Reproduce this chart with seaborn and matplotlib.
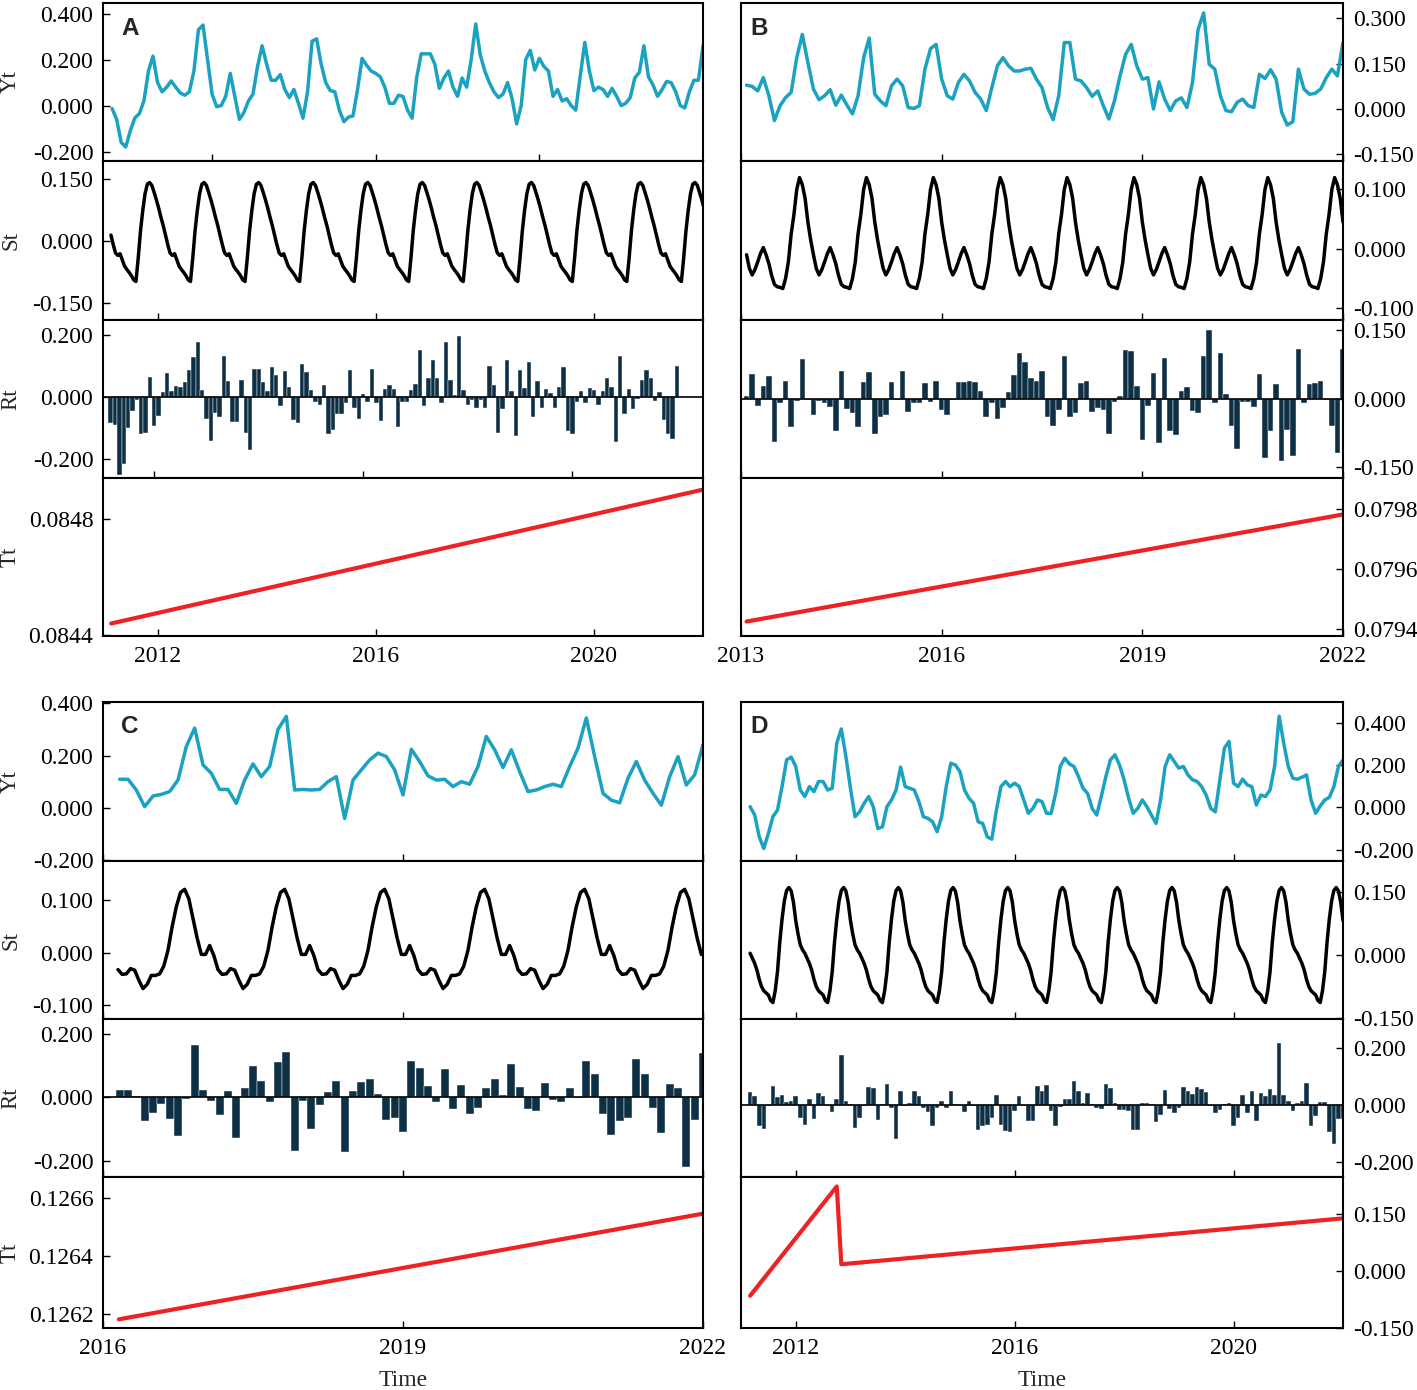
import numpy as np
import pandas as pd
import seaborn as sns
import matplotlib
matplotlib.use("Agg")
import matplotlib.pyplot as plt
from matplotlib.ticker import FixedLocator, StrMethodFormatter

# ---------------- data (monthly values) ----------------
# Panel A: 2011-2022
yt_a = [-0.013, -0.06, -0.16, -0.18, -0.11, -0.054, -0.035, 0.02, 0.15, 0.215,
        0.10, 0.06, 0.08, 0.107, 0.08, 0.055, 0.045, 0.06, 0.15, 0.33,
        0.35, 0.20, 0.05, -0.005, 0.0, 0.04, 0.14, 0.04, -0.06, -0.03,
        0.02, 0.05, 0.17, 0.26, 0.18, 0.11, 0.11, 0.135, 0.07, 0.035,
        0.07, 0.01, -0.055, 0.06, 0.28, 0.29, 0.18, 0.10, 0.065, 0.06,
        -0.02, -0.07, -0.05, -0.045, 0.07, 0.205, 0.175, 0.15, 0.14, 0.125,
        0.08, 0.01, 0.01, 0.045, 0.04, -0.02, -0.055, 0.12, 0.225, 0.225,
        0.225, 0.18, 0.075, 0.12, 0.15, 0.08, 0.04, 0.12, 0.08, 0.20,
        0.355, 0.22, 0.15, 0.10, 0.06, 0.035, 0.05, 0.10, 0.03, -0.08,
        0.0, 0.20, 0.24, 0.155, 0.205, 0.17, 0.15, 0.04, 0.07, 0.02,
        0.03, 0.0, -0.02, 0.13, 0.275, 0.15, 0.065, 0.08, 0.07, 0.04,
        0.075, 0.04, 0.0, 0.01, 0.035, 0.12, 0.145, 0.26, 0.125, 0.09,
        0.04, 0.07, 0.105, 0.10, 0.06, 0.0, -0.01, 0.06, 0.11, 0.11,
        0.26]
rt_a = [-0.085, -0.09, -0.25, -0.215, -0.10, -0.045, -0.01, -0.12, -0.115, 0.065,
        -0.093, -0.06, 0.015, 0.078, 0.02, 0.035, 0.032, 0.048, 0.085, 0.128,
        0.175, 0.022, -0.07, -0.14, -0.05, -0.065, 0.13, 0.05, -0.08, -0.08,
        0.055, -0.115, -0.17, 0.09, 0.09, 0.048, 0.018, 0.095, 0.07, -0.03,
        0.083, 0.033, -0.075, -0.085, 0.107, 0.08, 0.022, -0.015, -0.025, 0.037,
        -0.12, -0.105, -0.055, -0.055, -0.02, 0.088, -0.035, -0.07, 0.01, -0.015,
        0.09, -0.02, -0.078, 0.025, 0.04, 0.025, -0.097, -0.015, -0.015, 0.022,
        0.043, 0.15, -0.03, 0.06, 0.118, 0.06, -0.02, 0.175, 0.055, 0.005,
        0.195, 0.022, -0.025, -0.01, -0.035, -0.01, -0.035, 0.10, 0.04, -0.115,
        -0.04, 0.12, 0.018, -0.125, 0.087, 0.03, 0.113, -0.065, 0.05, -0.035,
        0.027, 0.012, -0.035, 0.033, 0.095, -0.11, -0.12, -0.015, 0.02, -0.02,
        0.03, 0.022, -0.025, 0.018, 0.06, 0.033, -0.145, 0.133, -0.055, 0.025,
        -0.04, -0.005, 0.055, 0.088, 0.062, -0.013, 0.015, -0.075, -0.12, -0.135,
        0.10]
# one seasonal period (half-month steps, starting at the peak)
st_cycle_a = [0.142, 0.135, 0.118, 0.10, 0.08, 0.058, 0.038, 0.015, -0.008, -0.028,
              -0.034, -0.03, -0.045, -0.06, -0.068, -0.075, -0.083, -0.093, -0.097, -0.04,
              0.025, 0.075, 0.115, 0.138]
tt_a_months = [1.8, 132]
tt_a = [0.08444, 0.08490]

# Panel B: 2013-2022
yt_b = [0.079, 0.075, 0.06, 0.104, 0.044, -0.038, 0.011, 0.038, 0.055, 0.17,
        0.247, 0.154, 0.066, 0.031, 0.044, 0.064, 0.013, 0.046, 0.013, -0.016,
        0.044, 0.17, 0.235, 0.049, 0.027, 0.011, 0.077, 0.099, 0.077, 0.005,
        0.002, 0.011, 0.132, 0.2, 0.214, 0.099, 0.044, 0.033, 0.088, 0.115,
        0.093, 0.055, 0.033, -0.005, 0.071, 0.143, 0.17, 0.143, 0.126, 0.126,
        0.132, 0.135, 0.099, 0.071, 0.005, -0.035, 0.044, 0.22, 0.22, 0.099,
        0.093, 0.071, 0.042, 0.06, 0.011, -0.033, 0.027, 0.11, 0.181, 0.214,
        0.143, 0.099, 0.104, 0.0, 0.09, 0.033, -0.005, 0.027, 0.037, 0.005,
        0.088, 0.263, 0.318, 0.148, 0.132, 0.044, -0.005, -0.009, 0.022, 0.033,
        0.011, 0.005, 0.115, 0.101, 0.13, 0.099, -0.011, -0.053, -0.042, 0.132,
        0.066, 0.049, 0.052, 0.066, 0.104, 0.132, 0.11, 0.22]
rt_b = [0.005, 0.055, -0.015, 0.028, 0.05, -0.095, -0.01, 0.04, -0.062, -0.005,
        0.088, -0.002, -0.035, -0.005, -0.01, -0.018, -0.07, 0.06, -0.022, -0.032,
        -0.062, 0.037, 0.058, -0.077, -0.04, -0.036, 0.037, -0.002, 0.06, -0.03,
        -0.01, -0.01, 0.035, -0.007, 0.04, -0.025, -0.035, -0.003, 0.037, 0.037,
        0.04, 0.037, 0.018, -0.04, -0.01, -0.045, -0.02, 0.015, 0.052, 0.10,
        0.08, 0.045, 0.04, 0.06, -0.04, -0.06, -0.025, 0.093, -0.04, -0.032,
        0.035, 0.04, -0.03, -0.02, -0.025, -0.077, -0.007, 0.007, 0.107, 0.105,
        0.028, -0.09, -0.015, 0.057, -0.097, 0.09, -0.07, -0.08, 0.018, 0.025,
        -0.027, -0.032, 0.095, 0.152, -0.01, 0.10, 0.01, -0.06, -0.11, -0.008,
        -0.008, -0.018, 0.055, -0.13, -0.07, 0.033, -0.137, -0.068, -0.125, 0.11,
        -0.01, 0.032, 0.035, 0.04, -0.003, -0.06, -0.12, 0.11]
st_cycle_b = [0.12, 0.108, 0.085, 0.045, 0.015, -0.01, -0.033, -0.044, -0.035, -0.022,
              -0.008, 0.002, -0.01, -0.025, -0.045, -0.06, -0.064, -0.065, -0.067, -0.05,
              -0.022, 0.025, 0.058, 0.10]
tt_b_months = [1, 108]
tt_b = [0.079426, 0.079781]

# Panel C: 2016-2022
yt_c = [0.109, 0.109, 0.068, 0.004, 0.045, 0.051, 0.062, 0.106, 0.235, 0.305,
        0.164, 0.132, 0.07, 0.07, 0.017, 0.106, 0.168, 0.119, 0.158, 0.30,
        0.35, 0.068, 0.07, 0.068, 0.07, 0.10, 0.119, -0.041, 0.106, 0.145,
        0.183, 0.209, 0.196, 0.145, 0.049, 0.224, 0.177, 0.122, 0.106, 0.109,
        0.081, 0.10, 0.09, 0.158, 0.273, 0.222, 0.154, 0.222, 0.138, 0.062,
        0.068, 0.081, 0.09, 0.081, 0.158, 0.228, 0.344, 0.196, 0.055, 0.029,
        0.019, 0.113, 0.177, 0.106, 0.055, 0.01, 0.119, 0.196, 0.087, 0.126,
        0.241]
rt_c = [0.022, 0.024, 0.003, -0.075, -0.05, -0.022, -0.07, -0.122, -0.005, 0.167,
        0.023, -0.012, -0.055, 0.02, -0.127, 0.03, 0.10, 0.052, -0.015, 0.112,
        0.145, -0.17, -0.013, -0.10, -0.025, 0.017, 0.052, -0.172, 0.02, 0.05,
        0.058, 0.01, -0.072, -0.065, -0.11, 0.115, 0.092, 0.037, -0.015, 0.09,
        -0.038, 0.04, -0.053, -0.033, 0.03, 0.057, 0.007, 0.107, 0.033, -0.038,
        -0.043, 0.047, -0.008, -0.014, 0.03, -0.003, 0.115, 0.073, -0.052, -0.12,
        -0.075, -0.065, 0.12, 0.075, -0.033, -0.113, 0.042, 0.03, -0.22, -0.072,
        0.14]
st_cycle_c = [0.121, 0.103, 0.065, 0.028, -0.003, -0.003, 0.014, -0.005, -0.032, -0.041,
              -0.04, -0.03, -0.033, -0.052, -0.068, -0.06, -0.043, -0.043, -0.04, -0.025,
              0.005, 0.05, 0.088, 0.115]
tt_c_months = [1.9, 72]
tt_c = [0.12618, 0.126546]

# Panel D: 2011-2022
yt_d = [0.003, -0.036, -0.139, -0.194, -0.123, -0.044, -0.013, 0.098, 0.224, 0.237,
        0.193, 0.082, 0.051, 0.098, 0.074, 0.122, 0.122, 0.082, 0.09, 0.303,
        0.37, 0.24, 0.09, -0.044, -0.021, 0.019, 0.051, 0.003, -0.10, -0.092,
        0.003, 0.035, 0.082, 0.19, 0.098, 0.09, 0.082, 0.027, -0.044, -0.052,
        -0.068, -0.115, -0.044, 0.098, 0.208, 0.20, 0.169, 0.082, 0.043, 0.019,
        -0.068, -0.076, -0.139, -0.15, -0.013, 0.098, 0.122, 0.098, 0.114, 0.098,
        0.035, -0.028, -0.005, 0.035, 0.027, -0.028, -0.028, 0.066, 0.193, 0.232,
        0.205, 0.193, 0.145, 0.09, 0.066, -0.005, -0.036, 0.051, 0.145, 0.224,
        0.248, 0.20, 0.13, 0.043, -0.028, -0.005, 0.035, 0.003, -0.036, -0.076,
        0.035, 0.193, 0.248, 0.216, 0.185, 0.193, 0.153, 0.13, 0.122, 0.098,
        0.058, -0.005, -0.021, 0.13, 0.28, 0.311, 0.114, 0.098, 0.133, 0.106,
        0.098, 0.011, 0.058, 0.051, 0.082, 0.193, 0.43, 0.303, 0.193, 0.137,
        0.133, 0.142, 0.153, 0.035, -0.028, 0.006, 0.035, 0.047, 0.098, 0.193,
        0.224]
rt_d = [0.045, 0.03, -0.075, -0.085, -0.003, 0.065, 0.028, 0.033, 0.01, 0.013,
        0.03, -0.045, -0.072, 0.02, -0.05, 0.043, 0.032, -0.005, -0.025, 0.022,
        0.175, 0.015, 0.003, -0.08, -0.045, -0.003, 0.063, 0.058, -0.052, 0.003,
        0.072, -0.012, -0.12, 0.048, -0.003, 0.005, 0.048, 0.032, -0.01, -0.025,
        -0.075, -0.01, 0.015, -0.01, 0.048, 0.002, -0.003, -0.025, 0.015, -0.003,
        -0.087, -0.075, -0.07, -0.045, 0.033, -0.07, -0.09, -0.095, -0.022, 0.03,
        -0.005, -0.055, -0.058, 0.065, 0.05, 0.07, -0.02, -0.075, -0.008, 0.022,
        0.022, 0.083, 0.048, 0.005, 0.04, 0.002, -0.01, -0.015, 0.072, 0.06,
        0.005, -0.018, -0.018, -0.02, -0.087, -0.087, 0.005, 0.007, 0.002, -0.06,
        -0.037, 0.053, -0.013, -0.03, -0.01, 0.063, 0.05, 0.037, 0.063, 0.055,
        0.045, -0.005, -0.03, -0.017, 0.003, 0.007, -0.075, -0.045, 0.033, -0.028,
        0.05, -0.055, 0.04, 0.03, 0.055, 0.033, 0.215, 0.035, 0.012, -0.02,
        0.005, 0.012, 0.075, -0.075, -0.04, 0.01, 0.01, -0.095, -0.135, -0.05,
        -0.05]
st_cycle_d = [0.16, 0.152, 0.125, 0.082, 0.05, 0.024, 0.012, 0.004, -0.008, -0.02,
              -0.036, -0.058, -0.075, -0.085, -0.09, -0.095, -0.108, -0.113, -0.085, -0.04,
              0.03, 0.085, 0.128, 0.153]
tt_d_months = [2, 21, 22, 132]
tt_d = [-0.066, 0.222, 0.017, 0.138]

# ---------------- styling ----------------
sns.set_style("ticks")
plt.rcParams['font.family'] = ['Liberation Serif', 'DejaVu Serif']
plt.rcParams['font.size'] = 17
plt.rcParams['axes.unicode_minus'] = False

YT_COLOR = '#1ba2c0'
ST_COLOR = '#000000'
RT_COLOR = '#0e3045'
TT_COLOR = '#ee2222'

W, H = 1417, 1390
fig = plt.figure(figsize=(W / 100, H / 100), dpi=100)
fig.patch.set_facecolor('white')


def add_ax(x0, x1, y0, y1):
    return fig.add_axes([x0 / W, 1 - y1 / H, (x1 - x0) / W, (y1 - y0) / H])


def draw_panel(p):
    x0, x1 = p['xs']
    ys = p['ys']
    axes = [add_ax(x0, x1, ys[i], ys[i + 1]) for i in range(4)]
    ax_y, ax_s, ax_r, ax_t = axes
    y0 = p['year0']

    # observed series
    xm = y0 + np.arange(p['m0'], p['m0'] + len(p['yt'])) / 12
    sns.lineplot(x=xm, y=p['yt'], ax=ax_y, color=YT_COLOR, lw=2.5, estimator=None)

    # seasonal component: the read period repeated over the span
    st = np.resize(np.roll(p['st_cycle'], -p['st_off']), p['st_n'])
    xs_ = y0 + (p['st_m0'] + 0.5 * np.arange(p['st_n'])) / 12
    sns.lineplot(x=xs_, y=st, ax=ax_s, color=ST_COLOR, lw=2.5, estimator=None)

    # residuals
    xr = y0 + np.arange(p['m0'], p['m0'] + len(p['rt'])) / 12
    ax_r.bar(xr, p['rt'], width=1 / 12, color=RT_COLOR, edgecolor='white', linewidth=0.3)
    ax_r.axhline(0, color='black', lw=1.2)

    # trend
    xt = y0 + np.array(p['tt_m']) / 12
    sns.lineplot(x=xt, y=p['tt'], ax=ax_t, color=TT_COLOR, lw=3.0, estimator=None)

    names = ['Yt', 'St', 'Rt', 'Tt']
    for i, ax in enumerate(axes):
        ax.set_xlim(p['xlims'][i])
        ax.set_ylim(p['ylims'][i])
        ax.xaxis.set_major_locator(FixedLocator(p['xticks'][i]))
        ax.yaxis.set_major_locator(FixedLocator(p['yticks'][i]))
        ax.yaxis.set_major_formatter(StrMethodFormatter(p['fmts'][i]))
        ax.xaxis.set_major_formatter(StrMethodFormatter('{x:.0f}'))
        ax.tick_params(direction='in', length=5, width=1, labelsize=17, pad=7,
                       top=False, colors='black')
        for s in ax.spines.values():
            s.set_visible(True)
            s.set_linewidth(1.5)
            s.set_color('black')
        ax.set_xlabel('')
        if p['side'] == 'right':
            ax.yaxis.tick_right()
            ax.tick_params(axis='y', left=False, right=True, labelleft=False,
                           labelright=True, direction='in', length=5, pad=7)
            ax.set_ylabel('')
        else:
            ax.tick_params(axis='y', right=False)
            ax.set_ylabel(names[i], fontsize=16.5)
            # all row labels sit in one column, as in the original
            ax.yaxis.set_label_coords(-82 / (x1 - x0), 0.5)
        if i < 3:
            ax.tick_params(axis='x', labelbottom=False)
        ax.set_facecolor('white')

    ax_y.text(p['lx'], p['ly'], p['letter'], transform=ax_y.transAxes,
              fontsize=17.5, fontweight='bold', family='Liberation Sans', va='top', ha='left')
    if p.get('xlabel'):
        ax_t.set_xlabel(p['xlabel'], fontsize=17)
        h_t = ys[4] - ys[3]
        ax_t.xaxis.set_label_coords(0.5, -42 / h_t)


f3 = '{x:.3f}'
f4 = '{x:.4f}'

panels = [
    dict(letter='A', side='left', xs=(103, 703), ys=[3, 161, 320, 478, 636], year0=2011,
         m0=2, yt=yt_a, rt=rt_a, st_cycle=st_cycle_a, st_off=7, st_m0=1.75, st_n=262,
         tt_m=tt_a_months, tt=tt_a,
         xlims=[(2011.0, 2022.0), (2011.0, 2022.0), (2011.02, 2022.5), (2011.0, 2022.0)],
         xticks=[[2013, 2016, 2019], [2012, 2016, 2020], [2012, 2016, 2020], [2012, 2016, 2020]],
         ylims=[(-0.241, 0.446), (-0.19, 0.194), (-0.26, 0.247), (0.084397, 0.08494)],
         yticks=[[-0.2, 0, 0.2, 0.4], [-0.15, 0, 0.15], [-0.2, 0, 0.2], [0.0844, 0.0848]],
         fmts=[f3, f3, f3, f4], lx=0.03, ly=0.91),
    dict(letter='B', side='right', xs=(741, 1343), ys=[3, 161, 320, 478, 636], year0=2013,
         m0=1, yt=yt_b, rt=rt_b, st_cycle=st_cycle_b, st_off=5, st_m0=1, st_n=215,
         tt_m=tt_b_months, tt=tt_b,
         xlims=[(2013, 2022)] * 4,
         xticks=[[2013, 2016, 2019, 2022]] * 4,
         ylims=[(-0.172, 0.351), (-0.12, 0.148), (-0.174, 0.173), (0.079378, 0.079902)],
         yticks=[[-0.15, 0, 0.15, 0.3], [-0.1, 0, 0.1], [-0.15, 0, 0.15],
                 [0.0794, 0.0796, 0.0798]],
         fmts=[f3, f3, f3, f4], lx=0.015, ly=0.91),
    dict(letter='C', side='left', xs=(103, 703), ys=[702, 861, 1019, 1177, 1328], year0=2016,
         m0=2, yt=yt_c, rt=rt_c, st_cycle=st_cycle_c, st_off=8, st_m0=1.8, st_n=142,
         tt_m=tt_c_months, tt=tt_c,
         xlims=[(2016, 2022)] * 4,
         xticks=[[2016, 2019, 2022]] * 4,
         ylims=[(-0.204, 0.405), (-0.126, 0.175), (-0.252, 0.248), (0.12615, 0.126673)],
         yticks=[[-0.2, 0, 0.2, 0.4], [-0.1, 0, 0.1], [-0.2, 0, 0.2],
                 [0.1262, 0.1264, 0.1266]],
         fmts=[f3, f3, f3, f4], lx=0.03, ly=0.92, xlabel='Time'),
    dict(letter='D', side='right', xs=(741, 1343), ys=[702, 861, 1019, 1177, 1328], year0=2011,
         m0=2, yt=yt_d, rt=rt_d, st_cycle=st_cycle_d, st_off=7, st_m0=2, st_n=261,
         tt_m=tt_d_months, tt=tt_d,
         xlims=[(2011, 2022)] * 4,
         xticks=[[2012, 2016, 2020]] * 4,
         ylims=[(-0.253, 0.497), (-0.152, 0.223), (-0.252, 0.30), (-0.151, 0.247)],
         yticks=[[-0.2, 0, 0.2, 0.4], [-0.15, 0, 0.15], [-0.2, 0, 0.2], [-0.15, 0, 0.15]],
         fmts=[f3, f3, f3, f3], lx=0.015, ly=0.92, xlabel='Time'),
]

for p in panels:
    draw_panel(p)

fig.savefig('out.png', dpi=100, facecolor='white')
